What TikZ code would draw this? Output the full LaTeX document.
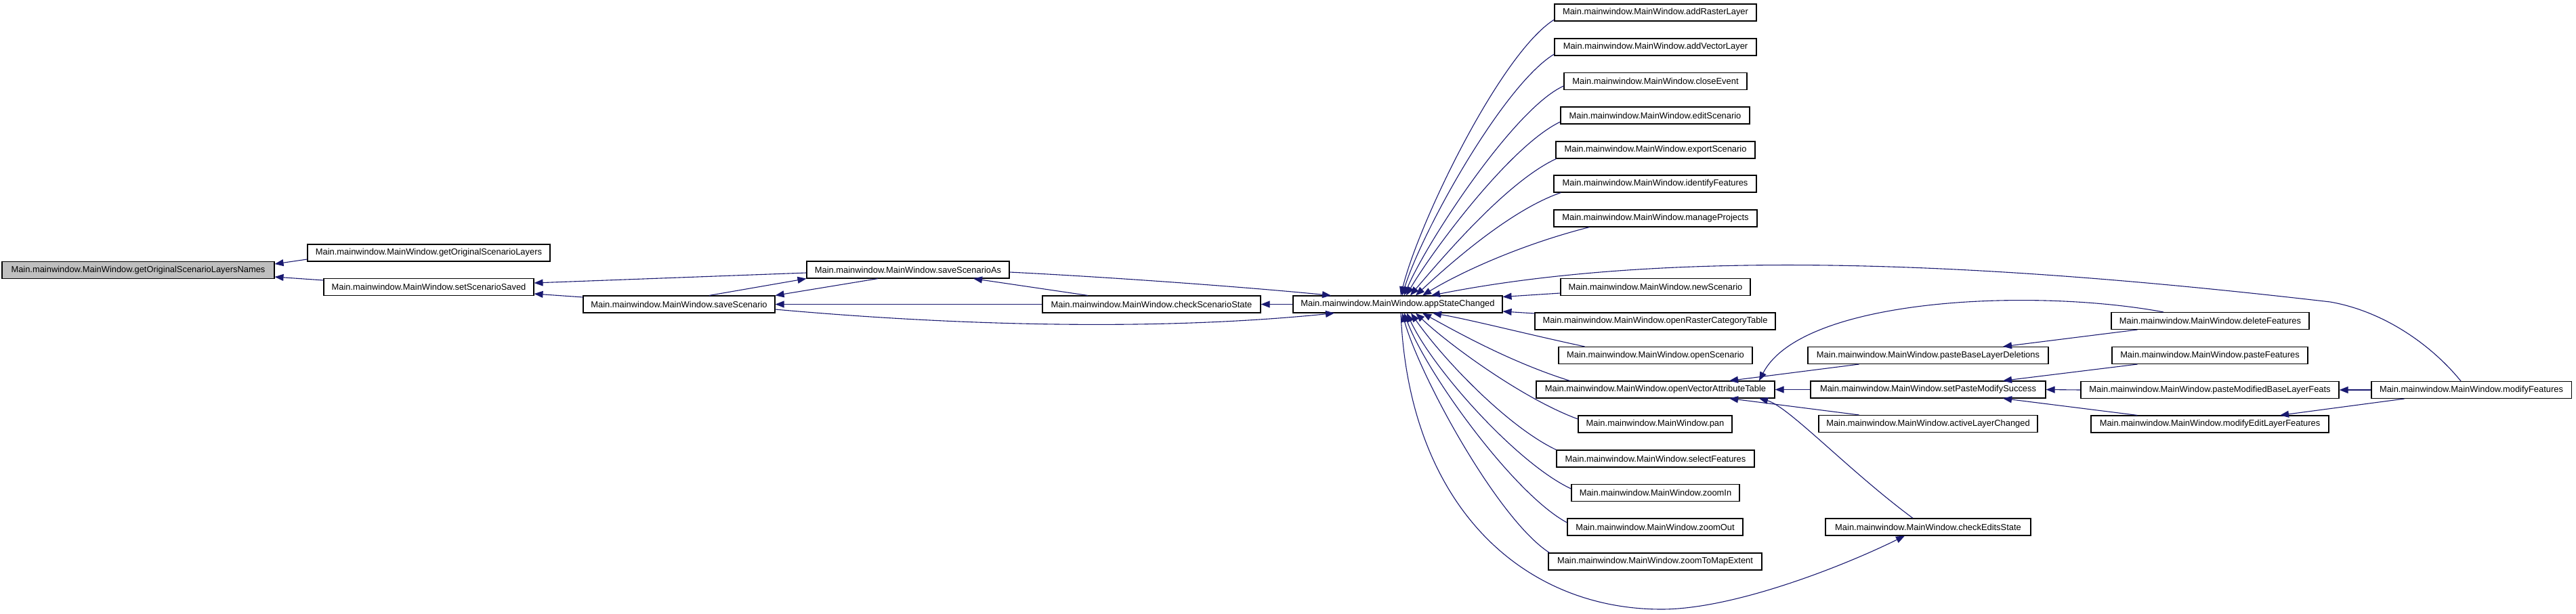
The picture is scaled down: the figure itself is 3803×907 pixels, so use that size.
\documentclass[tikz,border=0pt]{standalone}
\usepackage{fontspec}
\newfontfamily\boxfont{Liberation Sans}
\usetikzlibrary{arrows.meta,calc}
\definecolor{edgeblue}{RGB}{25,25,112}
\definecolor{rootgray}{RGB}{191,191,191}
\begin{document}
\begin{tikzpicture}[x=1pt,y=-1pt,
  box/.style={draw=black, fill=white, line width=1.1pt, minimum height=25pt, inner sep=0pt, font=\boxfont\fontsize{12.9}{15}\selectfont},
  edge/.style={draw=edgeblue, line width=1.1pt, -{Triangle[length=13pt,width=10pt]}}]
\useasboundingbox (0,0) rectangle (3803,907);
% ---- nodes ----
\node[box, fill=rootgray, minimum width=402pt] (root) at (204,399) {Main.mainwindow.MainWindow.getOriginalScenarioLayersNames};
\node[box, minimum width=358pt] (gosl) at (633,373.5) {Main.mainwindow.MainWindow.getOriginalScenarioLayers};
\node[box, minimum width=310pt] (sss) at (633,424) {Main.mainwindow.MainWindow.setScenarioSaved};
\node[box, minimum width=283pt] (ss) at (1002.5,449.5) {Main.mainwindow.MainWindow.saveScenario};
\node[box, minimum width=299pt] (ssa) at (1340.5,398.5) {Main.mainwindow.MainWindow.saveScenarioAs};
\node[box, minimum width=322pt] (css) at (1700,449.5) {Main.mainwindow.MainWindow.checkScenarioState};
\node[box, minimum width=309pt] (asc) at (2063.5,449.5) {Main.mainwindow.MainWindow.appStateChanged};
\node[box, minimum width=298pt] (arl) at (2444,18.5) {Main.mainwindow.MainWindow.addRasterLayer};
\node[box, minimum width=298pt] (avl) at (2444,69.5) {Main.mainwindow.MainWindow.addVectorLayer};
\node[box, minimum width=270pt] (ce) at (2444,120) {Main.mainwindow.MainWindow.closeEvent};
\node[box, minimum width=279pt] (es) at (2443.5,170.5) {Main.mainwindow.MainWindow.editScenario};
\node[box, minimum width=294pt] (exs) at (2444,221.5) {Main.mainwindow.MainWindow.exportScenario};
\node[box, minimum width=299pt] (idf) at (2443.5,271.5) {Main.mainwindow.MainWindow.identifyFeatures};
\node[box, minimum width=300pt] (mp) at (2444,322.5) {Main.mainwindow.MainWindow.manageProjects};
\node[box, minimum width=280pt] (ns) at (2444,424) {Main.mainwindow.MainWindow.newScenario};
\node[box, minimum width=355pt] (orct) at (2443.5,474.5) {Main.mainwindow.MainWindow.openRasterCategoryTable};
\node[box, minimum width=286pt] (os) at (2444,525) {Main.mainwindow.MainWindow.openScenario};
\node[box, minimum width=352pt] (ovat) at (2444,575.5) {Main.mainwindow.MainWindow.openVectorAttributeTable};
\node[box, minimum width=227pt] (pan) at (2443.5,626.5) {Main.mainwindow.MainWindow.pan};
\node[box, minimum width=292pt] (sf) at (2444,677.5) {Main.mainwindow.MainWindow.selectFeatures};
\node[box, minimum width=248pt] (zi) at (2444,728) {Main.mainwindow.MainWindow.zoomIn};
\node[box, minimum width=259pt] (zo) at (2443.5,778.5) {Main.mainwindow.MainWindow.zoomOut};
\node[box, minimum width=315pt] (zte) at (2443.5,829.5) {Main.mainwindow.MainWindow.zoomToMapExtent};
\node[box, minimum width=355pt] (pbld) at (2846.5,525) {Main.mainwindow.MainWindow.pasteBaseLayerDeletions};
\node[box, minimum width=347pt] (spms) at (2846.5,575.5) {Main.mainwindow.MainWindow.setPasteModifySuccess};
\node[box, minimum width=323pt] (alc) at (2846.5,626) {Main.mainwindow.MainWindow.activeLayerChanged};
\node[box, minimum width=303pt] (ces) at (2846.5,778.5) {Main.mainwindow.MainWindow.checkEditsState};
\node[box, minimum width=292pt] (df) at (3263,474) {Main.mainwindow.MainWindow.deleteFeatures};
\node[box, minimum width=289pt] (pf) at (3262.5,525) {Main.mainwindow.MainWindow.pasteFeatures};
\node[box, minimum width=381pt] (pmblf) at (3262.5,576) {Main.mainwindow.MainWindow.pasteModifiedBaseLayerFeats};
\node[box, minimum width=351pt] (melf) at (3262.5,626.5) {Main.mainwindow.MainWindow.modifyEditLayerFeatures};
\node[box, minimum width=295pt] (mf) at (3648.5,576) {Main.mainwindow.MainWindow.modifyFeatures};
% ---- left part ----
\draw[edge] ($(gosl.west)+(0,9.5)$) -- ($(root.east)+(0,-9)$);
\draw[edge] ($(sss.west)+(0,-10)$) -- ($(root.east)+(0,10)$);
\draw[edge] ($(ssa.west)+(0,4.5)$) -- ($(sss.east)+(0,-6)$);
\draw[edge] ($(ss.west)+(0,-10.5)$) -- ($(sss.east)+(0,10)$);
\draw[edge] ($(ss.north)+(44.5,0)$) -- (ssa.south west);
\draw[edge] ($(ssa.south)+(-44.5,0)$) -- (ss.north east);
\draw[edge] (css.west) -- (ss.east);
\draw[edge] ($(css.north)+(-94,0)$) -- ($(ssa.south)+(96.5,0)$);
\draw[edge] (asc.west) -- (css.east);
\draw[edge] ($(ssa.east)+(0,3.5)$) .. controls (1650,410) and (1850,425) .. ($(asc.north)+(-98.5,0)$);
\draw[edge] ($(ss.east)+(0,7.5)$) .. controls (1400,480) and (1700,490) .. ($(asc.south)+(-93.5,0)$);
% ---- callers of appStateChanged, above ----
\draw[edge] ($(arl.west)+(0,10.5)$) .. controls (2215,79) and (2094,330) .. ($(asc.north)+(4.5,0)$);
\draw[edge] ($(avl.west)+(0,10.5)$) .. controls (2220,125) and (2100,340) .. ($(asc.north)+(6.5,0)$);
\draw[edge] ($(ce.west)+(0,7)$) .. controls (2235,160) and (2105,360) .. ($(asc.north)+(9.5,0)$);
\draw[edge] ($(es.west)+(0,9.5)$) .. controls (2230,215) and (2115,370) .. ($(asc.north)+(12.5,0)$);
\draw[edge] ($(exs.south west)+(1,0)$) .. controls (2225,268) and (2130,380) .. ($(asc.north)+(18.5,0)$);
\draw[edge] ($(idf.south west)+(11,0)$) .. controls (2230,310) and (2140,390) .. ($(asc.north)+(26.5,0)$);
\draw[edge] ($(mp.south west)+(53,0)$) .. controls (2250,360) and (2160,400) .. ($(asc.north)+(36.5,0)$);
\draw[edge] ($(mf.north)+(-15.5,0)$) .. controls (3590,510) and (3520,460) .. (3440,446)
            .. controls (3000,395) and (2500,360) .. ($(asc.north)+(49.5,0)$);
% ---- callers of appStateChanged, right ----
\draw[edge] ($(ns.west)+(0,9)$) -- ($(asc.east)+(0,-11)$);
\draw[edge] ($(orct.west)+(0,-11.5)$) -- ($(asc.east)+(0,10.5)$);
% ---- callers of appStateChanged, below ----
\draw[edge] ($(os.north west)+(39,0)$) .. controls (2260,495) and (2170,472) .. ($(asc.south)+(51.5,0)$);
\draw[edge] ($(ovat.north west)+(50,0)$) .. controls (2230,535) and (2150,490) .. ($(asc.south)+(36.5,0)$);
\draw[edge] ($(pan.west)+(0,-7.5)$) .. controls (2250,590) and (2140,510) .. ($(asc.south)+(26.5,0)$);
\draw[edge] (sf.north west) .. controls (2225,630) and (2130,530) .. ($(asc.south)+(19.5,0)$);
\draw[edge] ($(zi.west)+(0,-6)$) .. controls (2240,685) and (2115,545) .. ($(asc.south)+(13.5,0)$);
\draw[edge] ($(zo.west)+(0,-6.5)$) .. controls (2235,730) and (2105,550) .. ($(asc.south)+(9.5,0)$);
\draw[edge] ($(zte.north west)+(2,0)$) .. controls (2212,768) and (2097,558) .. ($(asc.south)+(6.5,0)$);
\draw[edge] ($(asc.south)+(4.5,0)$) .. controls (2080,750) and (2250,900) .. (2453,900)
            .. controls (2560,900) and (2722,836) .. ($(ces.south)+(-34.5,0)$);
% ---- right part ----
\draw[edge] ($(pbld.south west)+(76,0)$) -- ($(ovat.north)+(109,0)$);
\draw[edge] ($(df.north)+(-69,0)$) .. controls (3000,425) and (2660,440) .. ($(ovat.north)+(153,0)$);
\draw[edge] (spms.west) -- (ovat.east);
\draw[edge] ($(alc.north west)+(60,0)$) -- ($(ovat.south)+(109,0)$);
\draw[edge] ($(ces.north)+(-22.5,0)$) .. controls (2730,696) and (2640,600) .. ($(ovat.south)+(153,0)$);
\draw[edge] ($(df.south west)+(39,0)$) -- ($(pbld.north)+(110.5,0)$);
\draw[edge] ($(pf.south west)+(38,0)$) -- ($(spms.north)+(110.5,0)$);
\draw[edge] (pmblf.west) -- (spms.east);
\draw[edge] ($(melf.north west)+(69,0)$) -- ($(spms.south)+(110.5,0)$);
\draw[edge] (mf.west) -- (pmblf.east);
\draw[edge] ($(mf.south west)+(49,0)$) -- ($(melf.north)+(103.5,0)$);
\end{tikzpicture}
\end{document}
